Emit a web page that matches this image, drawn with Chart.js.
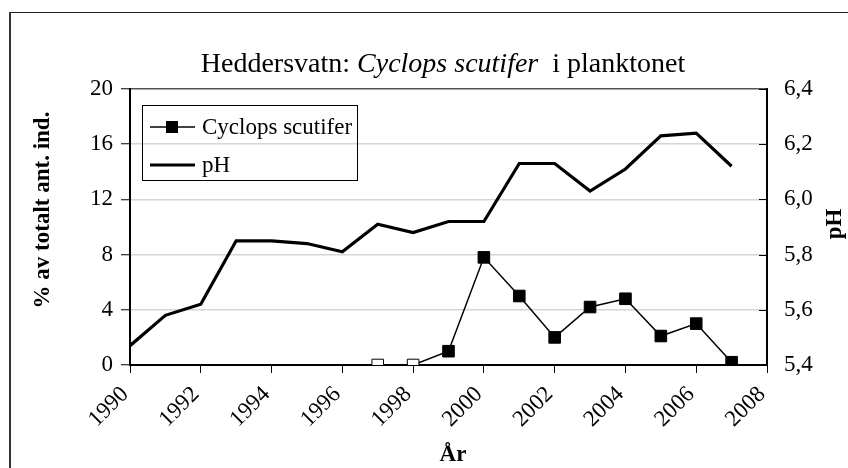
<!DOCTYPE html>
<html>
<head>
<meta charset="utf-8">
<script src="https://cdn.jsdelivr.net/npm/chart.js@4/dist/chart.umd.min.js"></script>
<style>
  html, body { margin: 0; padding: 0; background: #fff; }
  #wrap { position: relative; width: 848px; height: 468px; overflow: hidden; }
  #frame { position: absolute; left: 9px; top: 12px; width: 900px; height: 500px;
           border-top: 1.5px solid #222; border-left: 2px solid #333; }
  canvas { position: absolute; left: 0; top: 0; }
</style>
</head>
<body>
<div id="wrap">
  <div id="frame"></div>
  <canvas id="chart" width="848" height="468"></canvas>
</div>
<script>
    "use strict";
    var FONT = '"Liberation Serif", "Times New Roman", serif';

    // pH, yearly 1990-2007
    var phYears = [1990, 1991, 1992, 1993, 1994, 1995, 1996, 1997, 1998,
                   1999, 2000, 2001, 2002, 2003, 2004, 2005, 2006, 2007];
    var phValues = [5.47, 5.58, 5.62, 5.85, 5.85, 5.84, 5.81, 5.91, 5.88,
                    5.92, 5.92, 6.13, 6.13, 6.03, 6.11, 6.23, 6.24, 6.12];

    // Cyclops scutifer, % of total number of individuals
    var cyclopsYears = [1997, 1998, 1999, 2000, 2001, 2002, 2003, 2004, 2005, 2006, 2007];
    var cyclopsValues = [0, 0, 1.0, 7.8, 5.0, 2.0, 4.2, 4.8, 2.1, 3.0, 0.2];
    var cyclopsOpenUntil = 1998;   // zero samples drawn as open squares

    var leftTicks = [0, 4, 8, 12, 16, 20];
    var rightTicks = [5.4, 5.6, 5.8, 6.0, 6.2, 6.4];
    var yearTicks = [1990, 1992, 1994, 1996, 1998, 2000, 2002, 2004, 2006, 2008];

    function pairs(xs, ys) {
        return xs.map(function(x, i) { return {x: x, y: ys[i]}; });
    }

    function commaNum(v) {
        return v.toFixed(1).replace('.', ',');
    }

    // title with italic species name, axis titles and framed legend
    var decorations = {
        id: 'decorations',
        afterDraw: function(chart) {
            var ctx = chart.ctx;
            var area = chart.chartArea;
            ctx.save();
            ctx.fillStyle = '#000';

            // chart title
            var parts = [
                {t: 'Heddersvatn: ', f: '28px ' + FONT},
                {t: 'Cyclops scutifer', f: 'italic 28px ' + FONT},
                {t: '  i planktonet', f: '28px ' + FONT}
            ];
            var total = 0;
            parts.forEach(function(p) { ctx.font = p.f; p.w = ctx.measureText(p.t).width; total += p.w; });
            var x = 443 - total / 2;
            ctx.textBaseline = 'alphabetic';
            ctx.textAlign = 'left';
            parts.forEach(function(p) { ctx.font = p.f; ctx.fillText(p.t, x, 72); x += p.w; });

            // axis titles
            ctx.font = 'bold 23px ' + FONT;
            ctx.textAlign = 'center';
            ctx.textBaseline = 'middle';
            ctx.save();
            ctx.translate(43, 210);
            ctx.rotate(-Math.PI / 2);
            ctx.fillText('% av totalt ant. ind.', 0, 0);
            ctx.restore();
            ctx.save();
            ctx.translate(835, 224);
            ctx.rotate(-Math.PI / 2);
            ctx.fillText('pH', 0, 0);
            ctx.restore();
            ctx.fillText('År', 453, 455);

            // inward ticks on the pH axis
            var y1 = chart.scales.y1;
            ctx.strokeStyle = '#000';
            ctx.lineWidth = 1;
            y1.ticks.forEach(function(t) {
                var py = Math.round(y1.getPixelForValue(t.value)) + 0.5;
                ctx.beginPath();
                ctx.moveTo(area.right - 8, py);
                ctx.lineTo(area.right, py);
                ctx.stroke();
            });

            // legend
            var lx = area.left + 12, ly = area.top + 16;
            ctx.lineWidth = 1;
            ctx.strokeStyle = '#000';
            ctx.strokeRect(lx + 0.5, ly + 0.5, 215, 75);
            ctx.font = '23px ' + FONT;
            ctx.textAlign = 'left';
            ctx.textBaseline = 'middle';
            chart.data.datasets.forEach(function(ds, i) {
                var cy = ly + 22 + i * 38;
                ctx.beginPath();
                ctx.lineWidth = ds.borderWidth;
                ctx.moveTo(lx + 8, cy);
                ctx.lineTo(lx + 53, cy);
                ctx.stroke();
                if (ds.pointRadius > 0) {
                    ctx.fillStyle = '#000';
                    ctx.fillRect(lx + 24, cy - 6, 12, 12);
                }
                ctx.fillStyle = '#000';
                ctx.fillText(ds.label, lx + 60, cy + 1);
            });
            ctx.restore();
        }
    };

    var canvas = document.getElementById('chart');
    new Chart(canvas.getContext('2d'), {
        type: 'line',
        data: {
            datasets: [
                {
                    label: 'Cyclops scutifer',
                    data: pairs(cyclopsYears, cyclopsValues),
                    yAxisID: 'y',
                    borderColor: '#000',
                    borderWidth: 1.5,
                    pointStyle: 'rect',
                    pointRadius: 8.2,
                    pointBorderWidth: 1,
                    pointBorderColor: '#000',
                    pointBackgroundColor: cyclopsYears.map(function(y) {
                        return y <= cyclopsOpenUntil ? '#fff' : '#000';
                    }),
                    tension: 0,
                    order: 1
                },
                {
                    label: 'pH',
                    data: pairs(phYears, phValues),
                    yAxisID: 'y1',
                    borderColor: '#000',
                    borderWidth: 3.2,
                    pointRadius: 0,
                    tension: 0,
                    order: 2
                }
            ]
        },
        options: {
            responsive: false,
            animation: false,
            devicePixelRatio: 1,
            layout: {padding: {top: 89, left: 0, right: 0, bottom: 0}},
            plugins: {
                legend: {display: false},
                title: {display: false},
                tooltip: {enabled: false}
            },
            scales: {
                x: {
                    type: 'linear',
                    min: yearTicks[0],
                    max: yearTicks[yearTicks.length - 1],
                    afterBuildTicks: function(scale) {
                        scale.ticks = yearTicks.map(function(v) { return {value: v}; });
                    },
                    afterFit: function(scale) { scale.height = 103; },
                    border: {color: '#000', width: 2},
                    grid: {drawOnChartArea: false, drawTicks: true, tickLength: 8, tickColor: '#000', tickWidth: 1},
                    ticks: {
                        color: '#000',
                        font: {family: FONT, size: 23},
                        minRotation: 45,
                        maxRotation: 45,
                        autoSkip: false,
                        padding: 8,
                        labelOffset: -5,
                        callback: function(v) { return String(v); }
                    }
                },
                y: {
                    position: 'left',
                    min: leftTicks[0],
                    max: leftTicks[leftTicks.length - 1],
                    afterBuildTicks: function(scale) {
                        scale.ticks = leftTicks.map(function(v) { return {value: v}; });
                    },
                    afterFit: function(scale) { scale.width = 130; },
                    border: {color: '#000', width: 2},
                    grid: {
                        color: function(c) { return c.tick && c.tick.value === 20 ? '#555' : '#d6d6d6'; },
                        lineWidth: 1.5,
                        tickColor: '#000',
                        tickLength: 9,
                        tickWidth: 1
                    },
                    ticks: {
                        color: '#000',
                        font: {family: FONT, size: 23},
                        padding: 8,
                        callback: function(v) { return String(v); }
                    }
                },
                y1: {
                    position: 'right',
                    min: rightTicks[0],
                    max: rightTicks[rightTicks.length - 1],
                    afterBuildTicks: function(scale) {
                        scale.ticks = rightTicks.map(function(v) { return {value: v}; });
                    },
                    afterFit: function(scale) { scale.width = 81; },
                    border: {color: '#000', width: 2},
                    grid: {drawOnChartArea: false, drawTicks: false},
                    ticks: {
                        color: '#000',
                        font: {family: FONT, size: 23},
                        padding: 17,
                        callback: function(v) { return commaNum(v); }
                    }
                }
            }
        },
        plugins: [decorations]
    });
</script>
</body>
</html>
